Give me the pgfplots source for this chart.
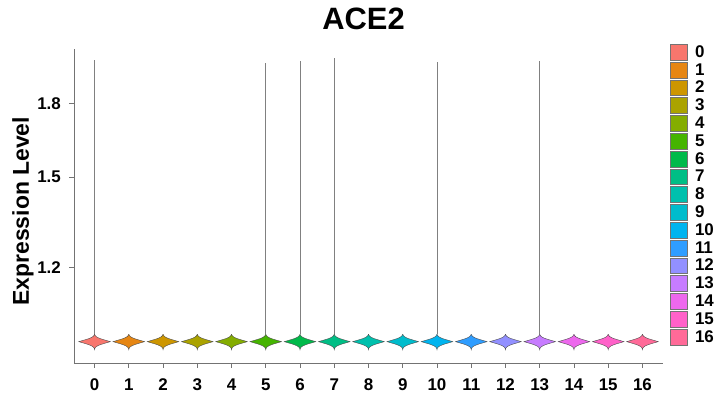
\documentclass[border=0pt]{standalone}
\usepackage{fontspec}
\setmainfont{Liberation Sans}
\usepackage{pgfplots}
\pgfplotsset{compat=1.18}
\usepackage{pgfplotstable}

\definecolor{c0}{HTML}{F8766D}
\definecolor{c1}{HTML}{E68613}
\definecolor{c2}{HTML}{CD9600}
\definecolor{c3}{HTML}{ABA300}
\definecolor{c4}{HTML}{84AD00}
\definecolor{c5}{HTML}{45B400}
\definecolor{c6}{HTML}{00BA4A}
\definecolor{c7}{HTML}{00BE85}
\definecolor{c8}{HTML}{00C0AD}
\definecolor{c9}{HTML}{00BCCC}
\definecolor{c10}{HTML}{00B4EF}
\definecolor{c11}{HTML}{2F9DFF}
\definecolor{c12}{HTML}{9290FF}
\definecolor{c13}{HTML}{C77CFF}
\definecolor{c14}{HTML}{ED68ED}
\definecolor{c15}{HTML}{FF61C9}
\definecolor{c16}{HTML}{FF6A98}

% violin outline (half-width in category units, expression level)
\pgfplotstableread{
dx y
0 1.0187
0.006 1.0174
0.02 1.0149
0.05 1.0124
0.10 1.0099
0.17 1.0074
0.26 1.0050
0.36 1.0025
0.46 1.0000
0.36 0.9975
0.26 0.9951
0.17 0.9926
0.10 0.9902
0.05 0.9878
0.02 0.9853
0.006 0.9829
0 0.9805
-0.006 0.9829
-0.02 0.9853
-0.05 0.9878
-0.10 0.9902
-0.17 0.9926
-0.26 0.9951
-0.36 0.9975
-0.46 1.0000
-0.36 1.0025
-0.26 1.0050
-0.17 1.0074
-0.10 1.0099
-0.05 1.0124
-0.02 1.0149
-0.006 1.0174
0 1.0187
}\violin

\newcommand{\vln}[2]{\addplot[fill=#2, draw=black!70, line width=0.4bp] table[x expr=\thisrow{dx}+#1, y=y] {\violin};}

\begin{document}
\begin{tikzpicture}
\begin{axis}[
  at={(0,0)}, anchor=south west,
  scale only axis, width=589bp, height=314.3bp,
  xmin=-0.6, xmax=16.6,
  ymode=log, ymin=0.948, ymax=2.058,
  axis x line*=bottom, axis y line*=left,
  axis line style={black!55, line width=0.7bp, -},
  tick align=outside, major tick length=4.5bp,
  tick style={black!55, line width=0.7bp},
  xtick={0,1,2,3,4,5,6,7,8,9,10,11,12,13,14,15,16},
  xticklabels={0,1,2,3,4,5,6,7,8,9,10,11,12,13,14,15,16},
  ytick={1.2,1.5,1.8}, yticklabels={1.2,1.5,1.8},
  yminorticks=false,
  /pgf/number format/assume math mode=true,
  ticklabel style={font=\bfseries\fontsize{17}{17}\selectfont, text=black},
  xticklabel style={anchor=north, inner sep=0pt, yshift=-11bp},
  yticklabel style={anchor=east, inner sep=0pt, xshift=-8.5bp},
  title={ACE2},
  title style={font=\bfseries\fontsize{31}{31}\selectfont, at={(0.5,1)}, anchor=base, yshift=14bp, xshift=-5bp},
  ylabel={Expression Level},
  ylabel style={font=\bfseries\fontsize{23}{23}\selectfont, at={(axis description cs:-0.0764,0.484)}, anchor=base},
  legend image code/.code={\draw[#1, draw=black!55, line width=0.5bp] (0bp,-7.9bp) rectangle (16.5bp,7.9bp);},
  legend style={draw=none, fill=none, at={(1,1)}, anchor=north west, xshift=7bp, yshift=5bp,
    font=\bfseries\fontsize{17}{17}\selectfont, inner sep=0pt, outer sep=0pt,
    row sep=1.5bp, column sep=8bp, nodes={inner sep=0pt}},
  legend cell align=left,
]
\addplot[forget plot, black!50, line width=0.6bp] coordinates {(0,1.0187) (0,2.003)};
\addplot[forget plot, black!50, line width=0.6bp] coordinates {(5,1.0187) (5,1.986)};
\addplot[forget plot, black!50, line width=0.6bp] coordinates {(6,1.0187) (6,1.999)};
\addplot[forget plot, black!50, line width=0.6bp] coordinates {(7,1.0187) (7,2.011)};
\addplot[forget plot, black!50, line width=0.6bp] coordinates {(10,1.0187) (10,1.993)};
\addplot[forget plot, black!50, line width=0.6bp] coordinates {(13,1.0187) (13,1.999)};
\vln{0}{c0}\addlegendentry{0}
\vln{1}{c1}\addlegendentry{1}
\vln{2}{c2}\addlegendentry{2}
\vln{3}{c3}\addlegendentry{3}
\vln{4}{c4}\addlegendentry{4}
\vln{5}{c5}\addlegendentry{5}
\vln{6}{c6}\addlegendentry{6}
\vln{7}{c7}\addlegendentry{7}
\vln{8}{c8}\addlegendentry{8}
\vln{9}{c9}\addlegendentry{9}
\vln{10}{c10}\addlegendentry{10}
\vln{11}{c11}\addlegendentry{11}
\vln{12}{c12}\addlegendentry{12}
\vln{13}{c13}\addlegendentry{13}
\vln{14}{c14}\addlegendentry{14}
\vln{15}{c15}\addlegendentry{15}
\vln{16}{c16}\addlegendentry{16}
\end{axis}
\pgfresetboundingbox
\path[use as bounding box] (-74bp,-30.7bp) rectangle (643bp,363.3bp);
\end{tikzpicture}
\end{document}
